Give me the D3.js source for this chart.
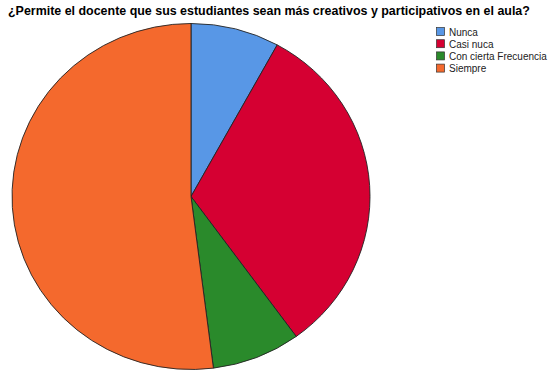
<!DOCTYPE html>
<html>
<head>
<meta charset="utf-8">
<script src="https://cdn.jsdelivr.net/npm/d3@7"></script>
<style>
  body { margin: 0; background: #fff; }
  svg { display: block; font-family: "Liberation Sans", Arial, sans-serif; }
</style>
</head>
<body>
<svg id="chart" width="550" height="372"></svg>
<script>
// Response counts per answer
const categories = ["Nunca", "Casi nuca", "Con cierta Frecuencia", "Siempre"];
const counts = [2, 8, 2, 13];
const colors = ["#5897e6", "#d50032", "#2a8a2b", "#f4692d"];
const title = "¿Permite el docente que sus estudiantes sean más creativos y participativos en el aula?";

const svg = d3.select("#chart");

svg.append("text")
  .attr("x", 8)
  .attr("y", 15)
  .attr("font-size", 12.45)
  .attr("font-weight", "bold")
  .attr("fill", "#000")
  .text(title);

// Pie, slightly flattened vertically
const cx = 191, cy = 196.5, rx = 179, ry = 173;
const data = categories.map((c, i) => ({ name: c, value: counts[i], color: colors[i] }));

const pie = d3.pie().sort(null).value(d => d.value);
const arc = d3.arc().innerRadius(0).outerRadius(rx);

const g = svg.append("g")
  .attr("transform", `translate(${cx},${cy}) scale(1,${ry / rx})`);

g.selectAll("path")
  .data(pie(data))
  .join("path")
  .attr("d", arc)
  .attr("fill", d => d.data.color)
  .attr("stroke", "#222")
  .attr("stroke-width", 0.9)
  .attr("vector-effect", "non-scaling-stroke");

// Legend
const legend = svg.append("g").attr("transform", "translate(436,27)");
const row = legend.selectAll("g")
  .data(data)
  .join("g")
  .attr("transform", (d, i) => `translate(0,${i * 12.2})`);

row.append("rect")
  .attr("x", 0.5)
  .attr("y", 0.5)
  .attr("width", 8)
  .attr("height", 8)
  .attr("fill", d => d.color)
  .attr("stroke", "#333")
  .attr("stroke-width", 0.7);

row.append("text")
  .attr("x", 13)
  .attr("y", 8.5)
  .attr("font-size", 10)
  .attr("fill", "#222")
  .text(d => d.name);
</script>
</body>
</html>
